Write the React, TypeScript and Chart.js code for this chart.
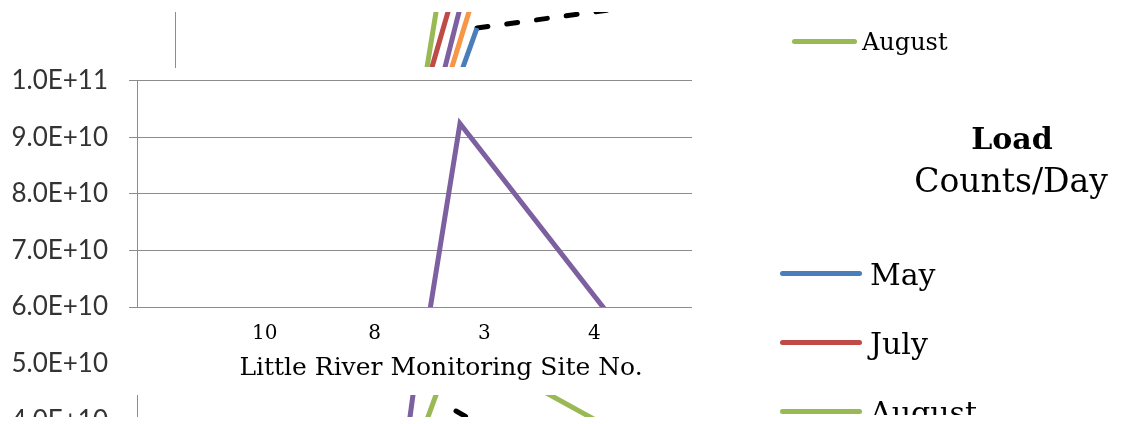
import React, { useEffect, useRef } from "react";
import { Chart, registerables } from "chart.js";

Chart.register(...registerables);

if (typeof document !== "undefined") {
  document.body.style.margin = "0";
}

// ---------------- data ----------------
const siteLabels = ["10", "8", "3", "4"];
const sitePositions = [1, 2, 3, 4];
const yTickValues = [4e10, 5e10, 6e10, 7e10, 8e10, 9e10, 1e11];

// main panel (purple series)
const mainPurple = [
  { x: 2.46, y: 5.42e10 },
  { x: 2.777, y: 9.24e10 },
  { x: 4.3, y: 5.45e10 },
];

// upper fragment
const upperGreen = [{ x: 2.457, y: 1.0e11 }, { x: 2.575, y: 1.14e11 }];
const upperRed = [{ x: 2.487, y: 1.0e11 }, { x: 2.696, y: 1.14e11 }];
const upperPurple = [{ x: 2.61, y: 1.0e11 }, { x: 2.793, y: 1.14e11 }];
const upperOrange = [{ x: 2.666, y: 1.0e11 }, { x: 2.889, y: 1.14e11 }];
const upperBlue = [{ x: 2.761, y: 1.0e11 }, { x: 2.932, y: 1.0928e11 }];
const upperBlack = [{ x: 2.932, y: 1.0928e11 }, { x: 4.2, y: 1.1263e11 }];

// lower fragment
const lowerPurple = [{ x: 2.318, y: 4.0e10 }, { x: 2.353, y: 4.5e10 }];
const lowerGreen = [{ x: 2.475, y: 4.0e10 }, { x: 2.569, y: 4.5e10 }];
const lowerBlack = [{ x: 2.741, y: 4.1625e10 }, { x: 2.886, y: 4.0e10 }];
const lowerGreen2 = [{ x: 3.546, y: 4.5e10 }, { x: 4.014, y: 4.0e10 }];

const legendTop = ["August"];
const legendBottom = ["May", "July", "August"];
const legendTitle = "Load";
const legendSubtitle = "Counts/Day";
const xTitle = "Little River Monitoring Site No.";

// ---------------- styles ----------------
const BLUE = "#4A7EBB";
const RED = "#BE4B48";
const GREEN = "#98B954";
const PURPLE = "#7D60A0";
const ORANGE = "#F79646";
const BLACK = "#000000";
const GRID = "#8c8c8c";
const SERIF = "'DejaVu Serif', serif";

const legendColors: Record<string, string> = { May: BLUE, July: RED, August: GREEN };

const X_MIN = -0.164;
const X_MAX = 4.89;
const Y_MIN = 6e10;
const Y_MAX = 1e11;

function sci(v: number): string {
  const e = Math.floor(Math.log10(v) + 1e-9);
  const m = v / Math.pow(10, e);
  return m.toFixed(1) + "E+" + e;
}

function line(data: { x: number; y: number }[], color: string, dash?: number[]) {
  return {
    data,
    borderColor: color,
    backgroundColor: color,
    borderWidth: 5,
    pointRadius: 0,
    tension: 0,
    clip: 0,
    borderCapStyle: dash ? "round" : "butt",
    borderDash: dash || [],
  };
}

function hiddenX(min: number, max: number) {
  return { type: "linear", min, max, display: false };
}

function fragmentY(min: number, max: number) {
  return {
    type: "linear",
    min,
    max,
    display: true,
    ticks: { display: false },
    grid: { display: false, drawTicks: false },
    border: { display: true, color: GRID, width: 1 },
    afterFit: (s: any) => {
      s.width = 0;
    },
  };
}

const basePlugins = { legend: { display: false }, tooltip: { enabled: false }, title: { display: false } };

const gridColor = (ctx: any) => {
  const v = ctx.tick ? ctx.tick.value : Y_MIN;
  return v >= Y_MIN - 1 && v <= Y_MAX + 1 ? GRID : "rgba(0,0,0,0)";
};

function mainConfig(): any {
  return {
    type: "line",
    data: { datasets: [line(mainPurple, PURPLE)] },
    options: {
      animation: false,
      responsive: false,
      maintainAspectRatio: false,
      layout: { padding: { top: 80.5, right: 8, bottom: 0, left: 0 } },
      plugins: basePlugins,
      scales: {
        x: {
          type: "linear",
          min: X_MIN,
          max: X_MAX,
          position: "bottom",
          afterBuildTicks: (s: any) => {
            s.ticks = sitePositions.map((v) => ({ value: v }));
          },
          afterFit: (s: any) => {
            s.height = 110;
          },
          ticks: {
            autoSkip: false,
            maxRotation: 0,
            padding: 15,
            color: "#000",
            font: { family: SERIF, size: 20 },
            callback: (v: number) => {
              const i = sitePositions.indexOf(v);
              return i >= 0 ? siteLabels[i] : "";
            },
          },
          grid: { display: false, drawTicks: false },
          border: { display: false },
        },
        y: {
          type: "linear",
          min: Y_MIN,
          max: Y_MAX,
          afterBuildTicks: (s: any) => {
            s.ticks = yTickValues.map((v) => ({ value: v }));
          },
          afterFit: (s: any) => {
            s.width = 137;
          },
          ticks: {
            autoSkip: false,
            padding: 21,
            color: "#333",
            font: { family: "Lato", size: 26 },
            callback: (v: number) => sci(v),
          },
          grid: { color: gridColor, tickColor: gridColor, lineWidth: 1, tickLength: 8, drawTicks: true },
          border: { display: true, color: GRID, width: 1 },
        },
      },
    },
  };
}

function upperConfig(): any {
  return {
    type: "line",
    data: {
      datasets: [
        line(upperGreen, GREEN),
        line(upperRed, RED),
        line(upperPurple, PURPLE),
        line(upperOrange, ORANGE),
        line(upperBlue, BLUE),
        line(upperBlack, BLACK, [11, 19]),
      ],
    },
    options: {
      animation: false,
      responsive: false,
      maintainAspectRatio: false,
      layout: { padding: { top: 12, right: 0, bottom: 13, left: 175 } },
      plugins: basePlugins,
      scales: {
        x: hiddenX(0.1817, 4.963),
        y: fragmentY(1.02385e11, 1.12102e11),
      },
    },
  };
}

function lowerConfig(): any {
  return {
    type: "line",
    data: {
      datasets: [
        line(lowerPurple, PURPLE),
        line(lowerGreen, GREEN),
        line(lowerBlack, BLACK, [11, 19]),
        line(lowerGreen2, GREEN),
      ],
    },
    options: {
      animation: false,
      responsive: false,
      maintainAspectRatio: false,
      layout: { padding: { top: 15, right: 8, bottom: 0, left: 137 } },
      plugins: basePlugins,
      scales: {
        x: hiddenX(X_MIN, X_MAX),
        y: fragmentY(4.0565e10, 4.4452e10),
      },
    },
  };
}

function ChartPanel(props: { make: () => any; left: number; top: number; width: number; height: number }) {
  const ref = useRef<HTMLCanvasElement | null>(null);
  useEffect(() => {
    const chart = new Chart(ref.current as HTMLCanvasElement, props.make());
    return () => chart.destroy();
  }, []);
  return (
    <canvas
      ref={ref}
      width={props.width}
      height={props.height}
      style={{ position: "absolute", left: props.left, top: props.top, width: props.width, height: props.height }}
    />
  );
}

function Text(props: {
  text: string;
  baseline: number;
  size: number;
  left?: number;
  center?: number;
  bold?: boolean;
}) {
  const top = props.baseline - 0.846 * props.size;
  const style: React.CSSProperties = {
    position: "absolute",
    top,
    fontFamily: SERIF,
    fontSize: props.size,
    lineHeight: props.size + "px",
    fontWeight: props.bold ? 700 : 400,
    whiteSpace: "nowrap",
    color: "#000",
  };
  if (props.center !== undefined) {
    style.left = props.center - 300;
    style.width = 600;
    style.textAlign = "center";
  } else {
    style.left = props.left;
  }
  return <div style={style}>{props.text}</div>;
}

function Swatch(props: { color: string; left: number; cy: number; width: number }) {
  return (
    <div
      style={{
        position: "absolute",
        left: props.left,
        top: props.cy - 2.5,
        width: props.width,
        height: 5,
        borderRadius: 2.5,
        background: props.color,
      }}
    />
  );
}

export default function App() {
  return (
    <div style={{ position: "relative", width: 1123, height: 424, overflow: "hidden", background: "#fff" }}>
      <ChartPanel make={mainConfig} left={0} top={0} width={700} height={417} />
      <ChartPanel make={upperConfig} left={0} top={0} width={700} height={80} />
      <ChartPanel make={lowerConfig} left={0} top={380} width={700} height={37} />
      <Text text={xTitle} center={441} baseline={375} size={25} />

      <div style={{ position: "absolute", left: 700, top: 0, width: 423, height: 415, overflow: "hidden" }}>
        <div style={{ position: "absolute", left: -700, top: 0, width: 1123, height: 424 }}>
          {legendTop.map((name) => (
            <React.Fragment key={"t" + name}>
              <Swatch color={legendColors[name]} left={792} cy={41} width={65} />
              <Text text={name} left={862} baseline={50} size={24} />
            </React.Fragment>
          ))}
          <Text text={legendTitle} center={1012} baseline={149} size={30} bold />
          <Text text={legendSubtitle} center={1011} baseline={192} size={33} />
          {legendBottom.map((name, i) => (
            <React.Fragment key={"b" + name}>
              <Swatch color={legendColors[name]} left={780} cy={273 + i * 69} width={82} />
              <Text text={name} left={870} baseline={285 + i * 69} size={30} />
            </React.Fragment>
          ))}
        </div>
      </div>
    </div>
  );
}
